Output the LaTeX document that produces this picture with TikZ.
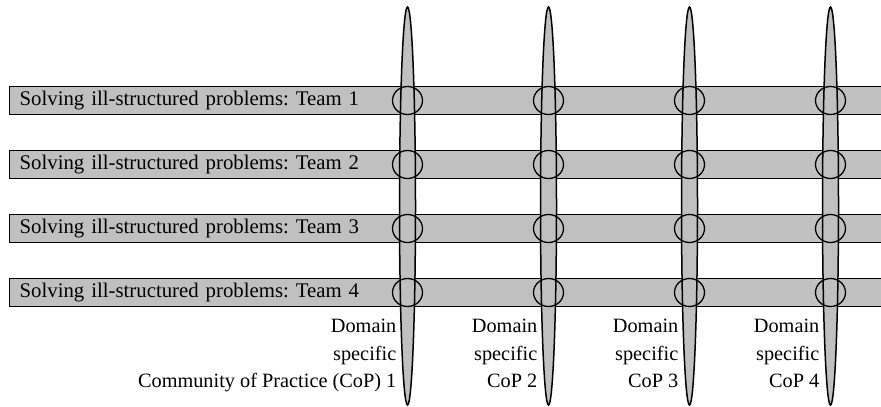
\documentclass[tikz,border=0pt]{standalone}
\usepackage{fontspec}
\setmainfont{Liberation Serif}
\usetikzlibrary{shapes.geometric}
\definecolor{barfill}{HTML}{C0C0C0}
\frenchspacing
\tikzset{
  every node/.style={font=\fontsize{20.3}{24}\selectfont},
  teambar/.style={draw, fill=barfill, line width=1.3pt, rectangle, anchor=west,
    minimum height=27.6pt, text width=860pt, inner xsep=10pt, inner ysep=0pt, align=left,
    font=\fontsize{20.8}{24}\selectfont},
  copband/.style={draw, fill=barfill, line width=1.5pt, ellipse, inner sep=0pt,
    minimum width=16pt, minimum height=398pt},
  joint/.style={draw, line width=1.3pt, ellipse, inner sep=0pt,
    minimum width=30pt, minimum height=28pt},
  coplabel/.style={anchor=base east, inner sep=0pt}
}
\begin{document}
\begin{tikzpicture}[x=1pt, y=-1pt]
  \useasboundingbox (0,0) rectangle (881,407);
  \clip (0,0) rectangle (881,407);
  % team bars
  \foreach \t/\y in {1/100.5, 2/164.5, 3/228.5, 4/292.5} {
    \node[teambar] (team\t) at (9,\y) {\frenchspacing Solving ill-structured problems: Team \t};
  }
  % communities of practice
  \foreach \c/\x in {1/407.5, 2/548.5, 3/689.5, 4/830.5} {
    \node[copband] (cop\c) at (\x,206) {};
  }
  % joints where teams and communities meet
  \foreach \c/\x in {1/407.5, 2/548.5, 3/689.5, 4/830.5} {
    \foreach \t/\y in {1/100.5, 2/164.5, 3/228.5, 4/292.5} {
      \node[joint] (j\c\t) at (\x,\y) {};
    }
  }
  % labels under each community
  \node[coplabel] (d1a) at (396.5,332.7) {Domain};
  \node[coplabel] (d1b) at (396.5,360.3) {specific};
  \node[coplabel] (d1c) at (396.5,387.9) {Community of Practice (CoP) 1};
  \foreach \c/\x in {2/537.5, 3/678.5, 4/819.5} {
    \node[coplabel] (d\c a) at (\x,332.7) {Domain};
    \node[coplabel] (d\c b) at (\x,360.3) {specific};
    \node[coplabel] (d\c c) at (\x,387.9) {CoP \c};
  }
\end{tikzpicture}
\end{document}
